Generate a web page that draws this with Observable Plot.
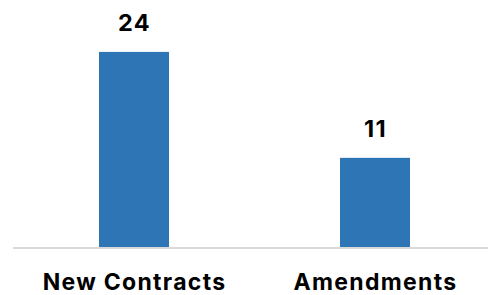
<!DOCTYPE html>
<html>
<head>
<meta charset="utf-8">
<script src="https://cdn.jsdelivr.net/npm/d3@7"></script>
<script src="https://cdn.jsdelivr.net/npm/@observablehq/plot@0.6"></script>
<style>
  html, body { margin: 0; padding: 0; background: #fff; }
  #chart { width: 488px; height: 295px; }
  #chart svg text { letter-spacing: 1.3px; }
</style>
</head>
<body>
<div id="chart"></div>
<script>
const categories = ["New Contracts", "Amendments"];
const values = [24, 11];

const data = categories.map((c, i) => ({category: c, value: values[i]}));

const chart = Plot.plot({
  width: 488,
  height: 295,
  marginLeft: 13,
  marginRight: 0,
  marginTop: 3,
  marginBottom: 47.5,
  style: {fontFamily: "Inter, sans-serif", background: "#fff", color: "#000"},
  x: {domain: categories, paddingInner: 0.708, paddingOuter: 0.337, align: 0.524, label: null},
  y: {domain: [0, 30], axis: null},
  marks: [
    Plot.barY(data, {x: "category", y: "value", fill: "#2E75B6"}),
    Plot.ruleY([0], {stroke: "#d9d9d9", strokeWidth: 2}),
    Plot.text(data, {x: "category", y: "value", text: d => String(d.value), lineAnchor: "middle", dy: -29, fontSize: 23.5, fontWeight: "bold", fill: "#000"}),
    Plot.axisX({tickSize: 0, tickPadding: 26, fontSize: 23, fontWeight: "bold", fill: "#000", label: null})
  ]
});
document.getElementById("chart").appendChild(chart);
</script>
</body>
</html>
